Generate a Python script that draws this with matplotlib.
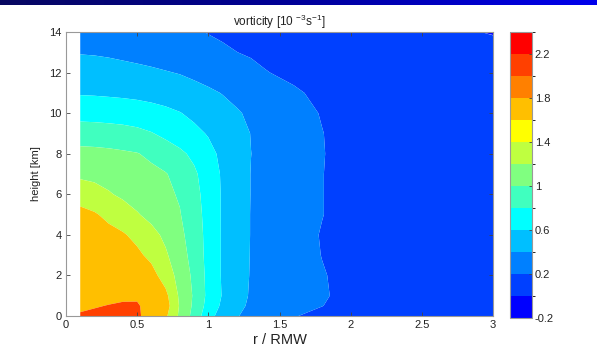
import numpy as np
import matplotlib
matplotlib.use("Agg")
import matplotlib.pyplot as plt
from matplotlib.colors import ListedColormap, BoundaryNorm, LinearSegmentedColormap
from matplotlib.cm import ScalarMappable

plt.rcParams['font.family'] = ['Liberation Sans', 'DejaVu Sans']
plt.rcParams['mathtext.fontset'] = 'custom'
plt.rcParams['mathtext.rm'] = 'Liberation Sans'
plt.rcParams['mathtext.it'] = 'Liberation Sans'

# ---- data ----
r_vals = [0.1, 0.2, 0.3, 0.4, 0.5, 0.6, 0.7, 0.8, 0.9, 1.0, 1.1, 1.2, 1.3, 1.4, 1.6, 1.8, 1.9, 2.0, 2.5, 3.0]
z_vals = [0, 0.5, 1, 2, 3, 4, 5, 6, 7, 8, 9, 10, 11, 12, 13, 14]
vort = [
    [2.06, 2.12, 2.16, 2.16, 2.08, 1.79, 1.435, 1.16, 0.933, 0.667, 0.518, 0.41, 0.35, 0.30, 0.21, 0.15, 0.13, 0.12, 0.10, 0.08],
    [1.90, 1.96, 2.02, 2.08, 2.05, 1.81, 1.49, 1.18, 0.96, 0.727, 0.5625, 0.4375, 0.376, 0.341, 0.272, 0.203, 0.17, 0.15, 0.11, 0.08],
    [1.80, 1.82, 1.85, 1.88, 1.93, 1.69, 1.45, 1.164, 0.975, 0.75, 0.5875, 0.4625, 0.383, 0.35, 0.283, 0.217, 0.185, 0.16, 0.11, 0.08],
    [1.72, 1.70, 1.67, 1.63, 1.57, 1.47, 1.31, 1.128, 0.956, 0.745, 0.579, 0.474, 0.389, 0.354, 0.282, 0.211, 0.18, 0.155, 0.11, 0.08],
    [1.62, 1.59, 1.55, 1.50, 1.44, 1.35, 1.225, 1.086, 0.924, 0.739, 0.58, 0.48, 0.392, 0.353, 0.275, 0.196, 0.17, 0.15, 0.11, 0.08],
    [1.52, 1.49, 1.46, 1.42, 1.347, 1.258, 1.16, 1.046, 0.904, 0.739, 0.58, 0.483, 0.394, 0.353, 0.27, 0.19, 0.165, 0.15, 0.11, 0.08],
    [1.46, 1.42, 1.352, 1.283, 1.214, 1.146, 1.078, 1.01, 0.883, 0.733, 0.58, 0.483, 0.394, 0.356, 0.28, 0.204, 0.17, 0.15, 0.11, 0.08],
    [1.31, 1.27, 1.215, 1.169, 1.125, 1.081, 1.037, 0.982, 0.861, 0.723, 0.581, 0.486, 0.396, 0.358, 0.281, 0.204, 0.17, 0.15, 0.11, 0.08],
    [1.162, 1.15, 1.135, 1.11, 1.08, 1.045, 1.01, 0.937, 0.832, 0.703, 0.577, 0.484, 0.396, 0.358, 0.281, 0.204, 0.17, 0.15, 0.11, 0.08],
    [1.056, 1.05, 1.04, 1.025, 1.008, 0.9625, 0.90, 0.8375, 0.758, 0.653, 0.56, 0.48, 0.401, 0.362, 0.285, 0.208, 0.17, 0.15, 0.11, 0.08],
    [0.904, 0.90, 0.89, 0.875, 0.85, 0.81, 0.756, 0.70, 0.644, 0.587, 0.523, 0.458, 0.396, 0.358, 0.281, 0.204, 0.17, 0.15, 0.11, 0.08],
    [0.726, 0.72, 0.71, 0.70, 0.685, 0.665, 0.64, 0.607, 0.561, 0.512, 0.463, 0.415, 0.374, 0.337, 0.263, 0.19, 0.16, 0.14, 0.11, 0.08],
    [0.584, 0.58, 0.573, 0.565, 0.555, 0.54, 0.52, 0.495, 0.465, 0.43, 0.393, 0.358, 0.323, 0.288, 0.218, 0.17, 0.15, 0.14, 0.10, 0.08],
    [0.486, 0.48, 0.47, 0.458, 0.444, 0.428, 0.41, 0.391, 0.36, 0.329, 0.298, 0.268, 0.237, 0.206, 0.17, 0.15, 0.14, 0.13, 0.10, 0.07],
    [0.39, 0.385, 0.375, 0.36, 0.345, 0.33, 0.31, 0.29, 0.265, 0.24, 0.22, 0.201, 0.185, 0.17, 0.15, 0.13, 0.12, 0.11, 0.08, 0.05],
    [0.33, 0.32, 0.31, 0.295, 0.28, 0.265, 0.25, 0.23, 0.213, 0.195, 0.18, 0.165, 0.15, 0.14, 0.12, 0.10, 0.09, 0.08, 0.05, -0.01],
]
plot_levels = [-0.2, 0, 0.2, 0.4, 0.6, 0.8, 1.0, 1.2, 1.4, 2.0, 2.4]
cbar_bounds = [-0.2, 0, 0.2, 0.4, 0.6, 0.8, 1.0, 1.2, 1.4, 1.6, 1.8, 2.0, 2.2, 2.4]
cbar_ticks = [-0.2, 0.2, 0.6, 1.0, 1.4, 1.8, 2.2]
cbar_ticklabels = ['-0.2', '0.2', '0.6', '1', '1.4', '1.8', '2.2']
x_ticks = [0, 0.5, 1, 1.5, 2, 2.5, 3]
x_ticklabels = ['0', '0.5', '1', '1.5', '2', '2.5', '3']
y_ticks = [0, 2, 4, 6, 8, 10, 12, 14]

# MATLAB jet(13)
jet13 = [(0, 0, 1), (0, .25, 1), (0, .5, 1), (0, .75, 1), (0, 1, 1),
         (.25, 1, .75), (.5, 1, .5), (.75, 1, .25), (1, 1, 0),
         (1, .75, 0), (1, .5, 0), (1, .25, 0), (1, 0, 0)]
fill_colors = [jet13[i] for i in (0, 1, 2, 3, 4, 5, 6, 7, 9, 11)]

fig = plt.figure(figsize=(5.97, 3.52), dpi=100)

# top banner gradient
bax = fig.add_axes([0, 1 - 5 / 352, 1, 5 / 352])
grad = np.linspace(0, 1, 256)[None, :]
banner = LinearSegmentedColormap.from_list('b', [(0.03, 0.03, 0.38), (0.0, 0.0, 0.60), (0.0, 0.0, 0.93)])
bax.imshow(grad, aspect='auto', cmap=banner)
bax.axis('off')

ax = fig.add_axes([66 / 597, 1 - 316 / 352, 427 / 597, 284 / 352])
R, Z = np.meshgrid(r_vals, z_vals)
ax.contourf(R, Z, np.array(vort), levels=plot_levels, colors=fill_colors, antialiased=True)
ax.set_xlim(0, 3)
ax.set_ylim(0, 14)
ax.set_xticks(x_ticks)
ax.set_xticklabels(x_ticklabels)
ax.set_yticks(y_ticks)
ax.tick_params(direction='in', length=3, width=0.6, color='#444444', labelsize=8,
               labelcolor='#222222', top=True, right=True, pad=3)
for s in ax.spines.values():
    s.set_color('#999999')
    s.set_linewidth(0.8)
ax.set_xlabel('r / RMW', fontsize=10.5, labelpad=2, color='#222222')
ax.set_ylabel('height [km]', fontsize=8, labelpad=6, color='#222222')
ax.set_title('vorticity [10 $^{-3}$s$^{-1}$]', fontsize=8.5, pad=4, color='#222222')

cax = fig.add_axes([510 / 597, 1 - 318 / 352, 22 / 597, 286 / 352])
cmap = ListedColormap(jet13)
norm = BoundaryNorm(cbar_bounds, cmap.N)
cb = fig.colorbar(ScalarMappable(norm=norm, cmap=cmap), cax=cax, ticks=cbar_ticks)
cb.set_ticklabels(cbar_ticklabels)
cb.ax.tick_params(direction='in', length=2.5, width=0.6, color='#444444', labelsize=8,
                  labelcolor='#222222', pad=2)
cb.outline.set_edgecolor('#999999')
cb.outline.set_linewidth(0.8)

fig.savefig('out.png', dpi=100)
